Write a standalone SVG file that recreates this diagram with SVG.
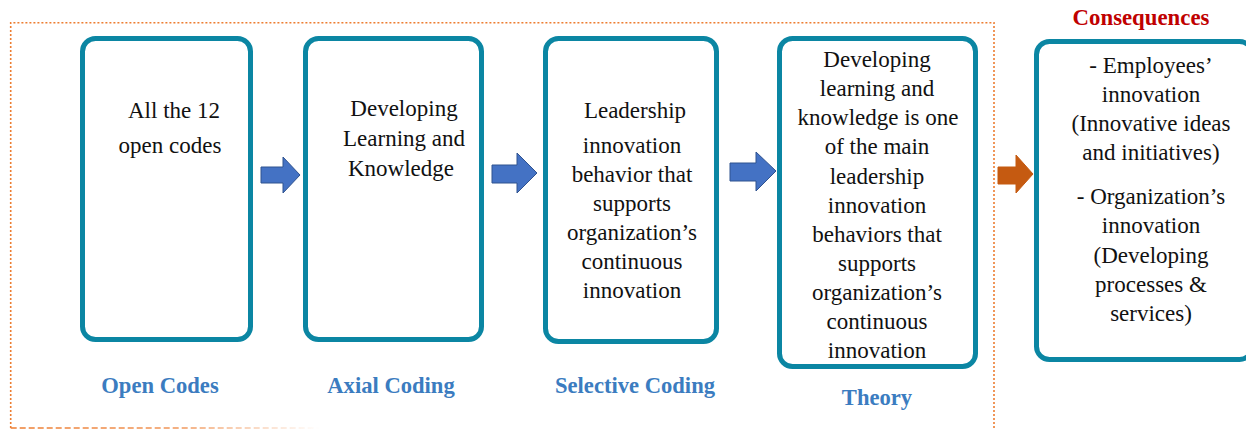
<svg xmlns="http://www.w3.org/2000/svg" width="1246" height="430" viewBox="0 0 1246 430">
<style>
.box{fill:#fff;stroke:#0b86a3;stroke-width:5}
.t{font-size:23px;fill:#111;text-anchor:middle}
.lbl{font-size:22.6px;font-weight:bold;fill:#3b7cc0;text-anchor:middle}
.cons{font-size:22.8px;font-weight:bold;fill:#c00000;text-anchor:middle}
.barrow{fill:#4472c4;stroke:#2f528f;stroke-width:1}
.oarrow{fill:#c55a11;stroke:#c55a11;stroke-width:1}
</style>
<defs>
<linearGradient id="fade" gradientUnits="userSpaceOnUse" x1="10" y1="0" x2="320" y2="0">
<stop offset="0" stop-color="#ed7d31" stop-opacity="1"/>
<stop offset="0.55" stop-color="#ed7d31" stop-opacity="0.8"/>
<stop offset="1" stop-color="#ed7d31" stop-opacity="0"/>
</linearGradient>
</defs>
<g id="frame">
<path d="M10.7,428 V22.7 H994 V428" fill="none" stroke="#ed7d31" stroke-width="1.6" stroke-dasharray="2 2"/>
<line x1="10.7" y1="428" x2="320" y2="428" stroke="url(#fade)" stroke-width="1.6" stroke-dasharray="6 3"/>
</g>
<g id="connectors">
<polygon class="barrow" points="261,167 283,167 283,157 300,175 283,193 283,183 261,183"/>
<polygon class="barrow" points="492,165 517,165 517,153 537,173 517,193 517,183 492,183"/>
<polygon class="barrow" points="730,163 756,163 756,152 776,171 756,191 756,181 730,181"/>
<polygon class="oarrow" points="998,167 1016,167 1016,155 1033,174 1016,193 1016,184 998,184"/>
</g>
<g font-family="Liberation Serif, serif">
<g id="open-codes">
<rect class="box" x="82.5" y="38.5" width="168" height="301" rx="13"/>
<text class="t"><tspan x="174" y="118">All the 12</tspan><tspan x="170" y="153">open codes</tspan></text>
<text class="lbl" x="160" y="393">Open Codes</text>
</g>
<g id="axial-coding">
<rect class="box" x="305.5" y="38.5" width="176" height="301" rx="13"/>
<text class="t"><tspan x="404" y="116">Developing</tspan><tspan x="404" y="146">Learning and</tspan><tspan x="401" y="176">Knowledge</tspan></text>
<text class="lbl" x="391" y="393">Axial Coding</text>
</g>
<g id="selective-coding">
<rect class="box" x="545.5" y="38.5" width="171" height="303" rx="13"/>
<text class="t"><tspan x="635" y="118">Leadership</tspan><tspan x="632" y="153">innovation</tspan><tspan x="632" y="182">behavior that</tspan><tspan x="632" y="211">supports</tspan><tspan x="632" y="240">organization’s</tspan><tspan x="632" y="269">continuous</tspan><tspan x="632" y="298">innovation</tspan></text>
<text class="lbl" x="635" y="393">Selective Coding</text>
</g>
<g id="theory">
<rect class="box" x="779.5" y="38.5" width="196" height="328" rx="13"/>
<text class="t"><tspan x="877" y="67">Developing</tspan><tspan x="877" y="96">learning and</tspan><tspan x="878" y="125">knowledge is one</tspan><tspan x="877" y="154">of the main</tspan><tspan x="877" y="184">leadership</tspan><tspan x="877" y="213">innovation</tspan><tspan x="877" y="242">behaviors that</tspan><tspan x="877" y="271">supports</tspan><tspan x="877" y="300">organization’s</tspan><tspan x="877" y="329">continuous</tspan><tspan x="877" y="358">innovation</tspan></text>
<text class="lbl" x="877" y="405">Theory</text>
</g>
<g id="consequences">
<rect class="box" x="1036.5" y="41.5" width="216" height="318" rx="13"/>
<text class="t"><tspan x="1151" y="73">- Employees’</tspan><tspan x="1151" y="102">innovation</tspan><tspan x="1151" y="131">(Innovative ideas</tspan><tspan x="1151" y="160">and initiatives)</tspan><tspan x="1151" y="204">- Organization’s</tspan><tspan x="1151" y="233">innovation</tspan><tspan x="1151" y="263">(Developing</tspan><tspan x="1151" y="292">processes &amp;</tspan><tspan x="1151" y="321">services)</tspan></text>
<text class="cons" x="1141" y="25">Consequences</text>
</g>
</g>
</svg>
